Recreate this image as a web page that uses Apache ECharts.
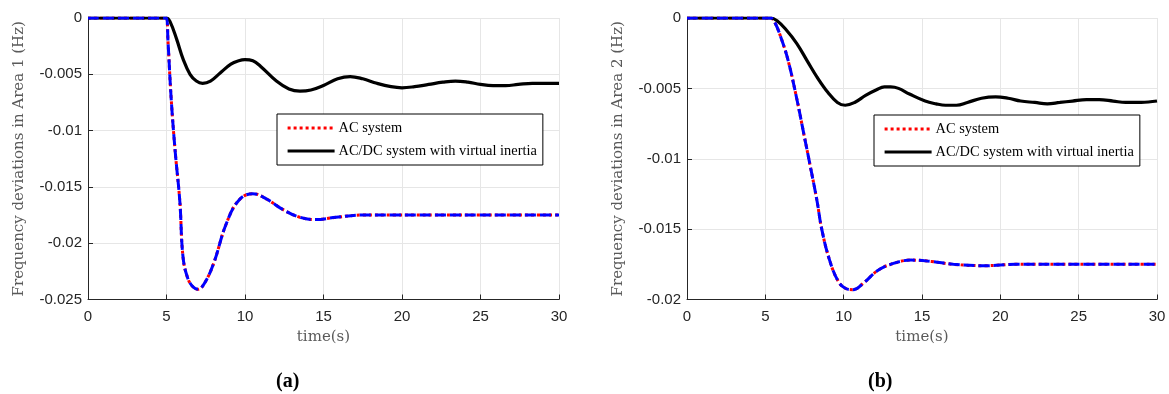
<!DOCTYPE html>
<html>
<head>
<meta charset="utf-8">
<script src="https://cdn.jsdelivr.net/npm/echarts@6/dist/echarts.min.js"></script>
<style>
html,body{margin:0;padding:0;background:#fff;}
#chart{width:1169px;height:394px;}
</style>
</head>
<body>
<div id="chart"></div>
<script>
// ---- data (time in s, frequency deviation in Hz) ----
const acArea1 = [[0,0],[4.9,0],[5.0,0],[5.1,-0.0022],[5.3,-0.0072],[5.55,-0.0118],[5.85,-0.0163],[6.05,-0.0212],[6.35,-0.0231],[6.7,-0.0239],[7.0,-0.0241],[7.4,-0.0236],[8.0,-0.0218],[8.8,-0.0183],[9.6,-0.0162],[10.5,-0.0156],[11.4,-0.0161],[12.4,-0.0170],[13.5,-0.0177],[14.5,-0.0179],[15.8,-0.0177],[17.5,-0.0175],[19.5,-0.0175],[22,-0.0175],[26,-0.0175],[30,-0.0175]];
const acdcVIArea1 = [[0,0],[4.9,0],[5.0,0],[5.22,-0.0003],[5.65,-0.0019],[6.07,-0.0037],[6.5,-0.0050],[6.9,-0.0056],[7.3,-0.0058],[7.8,-0.0056],[8.4,-0.0049],[9.1,-0.0041],[9.6,-0.0038],[10.0,-0.0037],[10.5,-0.0038],[11.0,-0.0043],[12.0,-0.0056],[12.8,-0.0063],[13.5,-0.0065],[14.2,-0.0064],[15.0,-0.0060],[15.9,-0.0054],[16.7,-0.0052],[17.5,-0.0054],[18.4,-0.0058],[19.3,-0.0061],[20.0,-0.0062],[20.8,-0.0061],[21.7,-0.0059],[22.6,-0.0057],[23.4,-0.0056],[24.2,-0.0057],[25.0,-0.0059],[25.8,-0.0060],[26.6,-0.0060],[27.4,-0.0059],[28.3,-0.0058],[29.2,-0.0058],[30,-0.0058]];
const acArea2 = [[0,0],[5.2,0],[5.35,0],[5.6,-0.0003],[6.0,-0.0014],[6.45,-0.0030],[7.0,-0.0057],[7.45,-0.0082],[7.9,-0.0107],[8.3,-0.0130],[8.6,-0.0150],[9.1,-0.0172],[9.65,-0.0187],[10.1,-0.0192],[10.6,-0.0193],[11.3,-0.0188],[12.1,-0.0180],[13.0,-0.0175],[14.3,-0.0172],[15.6,-0.0173],[17.0,-0.0175],[19.0,-0.0176],[21.0,-0.0175],[25,-0.0175],[30,-0.0175]];
const acdcVIArea2 = [[0,0],[5.2,0],[5.35,0],[5.75,-0.0002],[6.3,-0.0008],[7.0,-0.0018],[7.7,-0.0031],[8.3,-0.0042],[9.0,-0.0053],[9.6,-0.0060],[10.1,-0.0062],[10.7,-0.0060],[11.4,-0.0055],[12.1,-0.0051],[12.6,-0.0049],[13.0,-0.0049],[13.5,-0.0050],[14.2,-0.0054],[15.2,-0.0059],[15.9,-0.0061],[16.5,-0.0062],[17.2,-0.0062],[17.9,-0.0060],[18.8,-0.0057],[19.7,-0.0056],[20.5,-0.0057],[21.3,-0.0059],[22.2,-0.0060],[23.0,-0.0061],[23.8,-0.0060],[24.6,-0.0059],[25.5,-0.0058],[26.3,-0.0058],[27.2,-0.0059],[28.0,-0.0060],[29.0,-0.0060],[30,-0.0059]];

const xTicks = [0,5,10,15,20,25,30];
const yTicksA = ['0','-0.005','-0.01','-0.015','-0.02','-0.025'];
const yTicksB = ['0','-0.005','-0.01','-0.015','-0.02'];
const seriesNames = ['AC system','AC/DC system with virtual inertia','AC/DC system'];
const yNames = ['Frequency deviations in Area 1 (Hz)','Frequency deviations in Area 2 (Hz)'];
const xName = 'time(s)';
const panelLabels = ['(a)','(b)'];

// ---- styling ----
const axisColor = '#262626';
const gridColor = '#e6e6e6';
const serif = '"Liberation Serif", "Times New Roman", serif';
const cmLike = '"DejaVu Serif", serif';
const sans = '"Liberation Sans", Arial, sans-serif';

function fmtY(v){ return String(parseFloat(v.toFixed(4))); }

function xAxis(gi){
  return {
    type:'value', gridIndex:gi, min:0, max:30, interval:5,
    name:xName, nameLocation:'middle', nameGap:29,
    nameTextStyle:{fontFamily:cmLike, fontSize:15, color:'#5a5a5a'},
    axisLine:{show:true, onZero:false, lineStyle:{color:axisColor, width:1}},
    axisTick:{show:true, inside:true, length:5, lineStyle:{color:axisColor}},
    axisLabel:{fontFamily:sans, fontSize:15, color:axisColor, margin:10},
    splitLine:{show:true, lineStyle:{color:gridColor, width:1}}
  };
}
function yAxis(gi, min, nm){
  return {
    type:'value', gridIndex:gi, min:min, max:0, interval:0.005,
    name:nm, nameLocation:'middle', nameGap:61, nameRotate:90,
    nameTextStyle:{fontFamily:cmLike, fontSize:15, color:'#5a5a5a'},
    axisLine:{show:true, lineStyle:{color:axisColor, width:1}},
    axisTick:{show:true, inside:true, length:5, lineStyle:{color:axisColor}},
    axisLabel:{fontFamily:sans, fontSize:15, color:axisColor, margin:6, formatter:fmtY},
    splitLine:{show:true, lineStyle:{color:gridColor, width:1}}
  };
}
function lines(gi, ac, vi){
  return [
    {name:seriesNames[0], type:'line', xAxisIndex:gi, yAxisIndex:gi, data:ac, showSymbol:false, symbol:'none', smooth:0.4,
     lineStyle:{color:'#ff0000', width:3, type:[3,3]}, itemStyle:{color:'#ff0000'}, z:2},
    {name:seriesNames[1], type:'line', xAxisIndex:gi, yAxisIndex:gi, data:vi, showSymbol:false, symbol:'none', smooth:0.4,
     lineStyle:{color:'#000000', width:3.2, type:'solid'}, itemStyle:{color:'#000'}, z:3},
    {name:seriesNames[2], type:'line', xAxisIndex:gi, yAxisIndex:gi, data:ac, showSymbol:false, symbol:'none', smooth:0.4,
     lineStyle:{color:'#0000ff', width:3, type:[11,4]}, itemStyle:{color:'#0000ff'}, z:4}
  ];
}
function legend(left, top){
  return {
    data:[seriesNames[0], seriesNames[1]], orient:'vertical', left:left, top:top,
    backgroundColor:'#fff', borderColor:'#000', borderWidth:1, borderRadius:0,
    padding:[7,6,7,9], itemGap:9, itemWidth:47, itemHeight:14, selectedMode:false,
    itemStyle:{opacity:0, borderWidth:0},
    lineStyle:{width:3.2},
    textStyle:{fontFamily:serif, fontSize:14.4, color:'#000', padding:[0,0,0,-1]}
  };
}

const chart = echarts.init(document.getElementById('chart'), null, {renderer:'canvas'});
chart.setOption({
  animation:false,
  backgroundColor:'#fff',
  title:[
    {text:panelLabels[0], left:276, top:372, padding:0, textStyle:{fontFamily:serif, fontWeight:'bold', fontSize:20, color:'#000'}},
    {text:panelLabels[1], left:868, top:372, padding:0, textStyle:{fontFamily:serif, fontWeight:'bold', fontSize:20, color:'#000'}}
  ],
  grid:[
    {left:88, top:18, width:471, height:281.5},
    {left:687, top:18, width:470, height:281.5}
  ],
  legend:[legend(277,114), legend(874,115)],
  xAxis:[xAxis(0), xAxis(1)],
  yAxis:[yAxis(0,-0.025,yNames[0]), yAxis(1,-0.02,yNames[1])],
  series:[].concat(lines(0, acArea1, acdcVIArea1), lines(1, acArea2, acdcVIArea2))
});
</script>
</body>
</html>
